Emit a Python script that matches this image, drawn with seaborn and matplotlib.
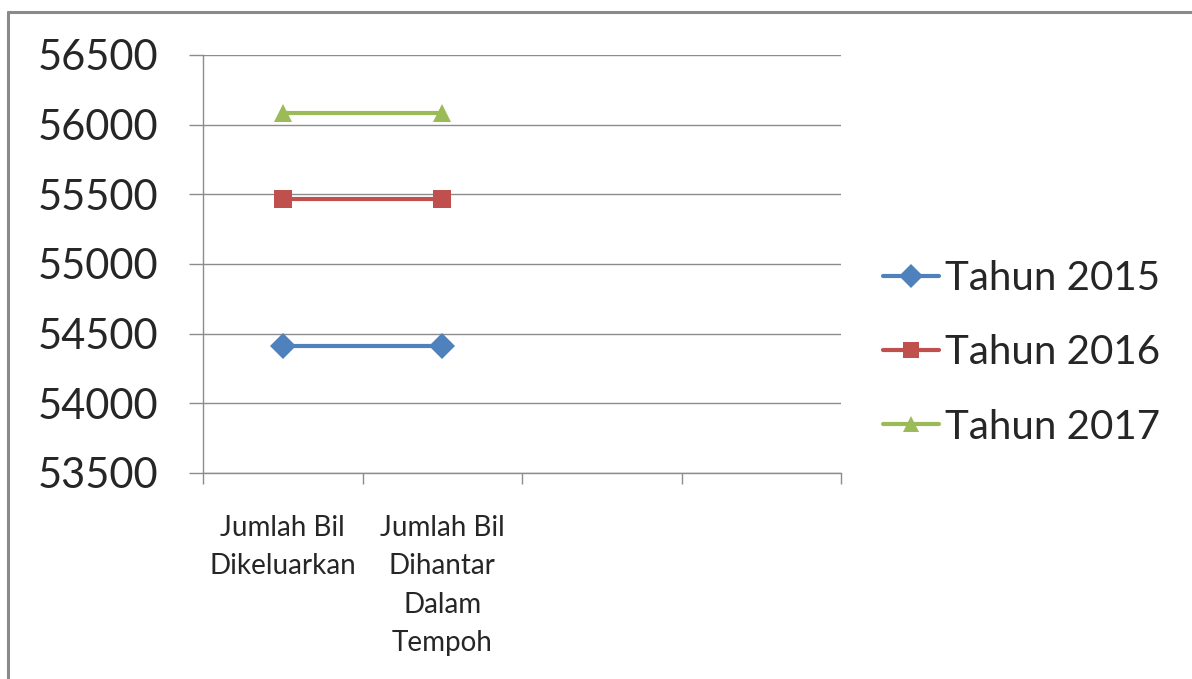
import matplotlib
matplotlib.use("Agg")
import matplotlib.pyplot as plt
from matplotlib.lines import Line2D
import seaborn as sns
import pandas as pd

# Category slots on the x axis (the last two are unused slots)
categories = ["Jumlah Bil\nDikeluarkan", "Jumlah Bil\nDihantar\nDalam\nTempoh", "", ""]
series_names = ["Tahun 2015", "Tahun 2016", "Tahun 2017"]
values_2015 = [54411, 54411]
values_2016 = [55465, 55465]
values_2017 = [56082, 56082]
y_ticks = [53500, 54000, 54500, 55000, 55500, 56000, 56500]

colors = {"Tahun 2015": "#4F81BD", "Tahun 2016": "#C0504D", "Tahun 2017": "#9BBB59"}
markers = {"Tahun 2015": "D", "Tahun 2016": "s", "Tahun 2017": "^"}

rows = []
for name, vals in zip(series_names, [values_2015, values_2016, values_2017]):
    for i, v in enumerate(vals):
        rows.append({"pos": i, "nilai": v, "siri": name})
df = pd.DataFrame(rows)

sns.set_style("white")
plt.rcParams["font.family"] = ["Lato", "DejaVu Sans"]

fig = plt.figure(figsize=(11.92, 6.79), dpi=100)
ax = fig.add_axes([203 / 1192, 1 - 473 / 679, (841 - 203) / 1192, (473 - 55) / 679])

sns.lineplot(data=df, x="pos", y="nilai", hue="siri", style="siri",
             palette=colors, markers=markers, dashes=False,
             linewidth=3.0, markersize=13, markeredgewidth=0, ax=ax)

# Y axis
ax.set_ylim(y_ticks[0], y_ticks[-1])
ax.set_yticks(y_ticks)
ax.set_yticklabels([str(t) for t in y_ticks], fontsize=30)
ax.yaxis.grid(True, color="#8C8C8C", linewidth=1.0)
ax.set_axisbelow(True)
ax.tick_params(axis="y", direction="out", length=10, width=1.0, color="#8C8C8C", pad=22, left=True)

# X axis: tick marks between slots, labels centred in slots
n = len(categories)
ax.set_xlim(-0.5, n - 0.5)
ax.set_xticks([i - 0.5 for i in range(n + 1)])
ax.set_xticklabels([])
ax.set_xticks(list(range(n)), minor=True)
ax.set_xticklabels(categories, minor=True, fontsize=20, linespacing=1.6, va="top")
ax.tick_params(axis="x", which="major", direction="out", length=8, width=1.0, color="#8C8C8C", bottom=True)
ax.tick_params(axis="x", which="minor", length=0, pad=30)

ax.set_xlabel("")
ax.set_ylabel("")
for side in ["top", "right"]:
    ax.spines[side].set_visible(False)
for side in ["left", "bottom"]:
    ax.spines[side].set_color("#8C8C8C")
    ax.spines[side].set_linewidth(1.0)

# Legend on the right
handles, labels = ax.get_legend_handles_labels()
leg = ax.legend(handles, labels, loc="center left", bbox_to_anchor=(883 / 1192, 1 - 353 / 679),
                bbox_transform=fig.transFigure, frameon=False, fontsize=29,
                handlelength=1.38, handletextpad=0.15, labelspacing=0.92, borderaxespad=0,
                borderpad=0)
for h in leg.legend_handles:
    h.set_linewidth(3.0)
    h.set_markersize(12)

# Chart area border (left and top edges)
border_kw = dict(color="#8A8A8A", linewidth=2.2, transform=fig.transFigure)
fig.add_artist(Line2D([8 / 1192, 8 / 1192], [0, 1 - 12 / 679], **border_kw))
fig.add_artist(Line2D([8 / 1192, 1], [1 - 12 / 679, 1 - 12 / 679], **border_kw))

fig.savefig("out.png", dpi=100)
